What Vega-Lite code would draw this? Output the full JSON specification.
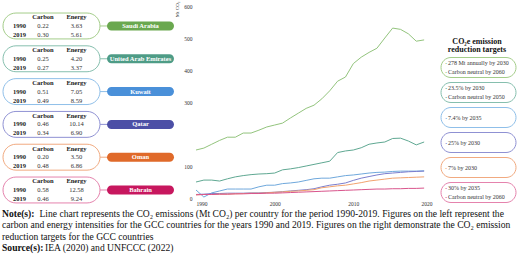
{
  "$schema": "https://vega.github.io/schema/vega-lite/v6.json",
  "background": "white",
  "padding": {"left": 0, "top": 1, "right": 0, "bottom": 0},
  "bounds": "flush",
  "align": "each",
  "columns": 3,
  "spacing": {"row": 0, "column": 4},
  "config": {
    "view": {"stroke": null},
    "font": "Liberation Serif",
    "axis": {"labelFont": "Liberation Serif", "titleFont": "Liberation Serif", "labelColor": "#333333", "titleColor": "#333333"}
  },
  "datasets": {
    "intensity": [
      {"country": "Saudi Arabia", "year": 1990, "carbon": 0.22, "energy": 3.63},
      {"country": "Saudi Arabia", "year": 2019, "carbon": 0.30, "energy": 5.61},
      {"country": "United Arab Emirates", "year": 1990, "carbon": 0.25, "energy": 4.20},
      {"country": "United Arab Emirates", "year": 2019, "carbon": 0.27, "energy": 3.37},
      {"country": "Kuwait", "year": 1990, "carbon": 0.51, "energy": 7.05},
      {"country": "Kuwait", "year": 2019, "carbon": 0.49, "energy": 8.59},
      {"country": "Qatar", "year": 1990, "carbon": 0.46, "energy": 10.14},
      {"country": "Qatar", "year": 2019, "carbon": 0.34, "energy": 6.90},
      {"country": "Oman", "year": 1990, "carbon": 0.20, "energy": 3.50},
      {"country": "Oman", "year": 2019, "carbon": 0.48, "energy": 6.86},
      {"country": "Bahrain", "year": 1990, "carbon": 0.58, "energy": 12.58},
      {"country": "Bahrain", "year": 2019, "carbon": 0.46, "energy": 9.24}
    ],
    "targets": [
      {"country": "Saudi Arabia", "targets": ["278 Mt annually by 2030", "Carbon neutral by 2060"]},
      {"country": "United Arab Emirates", "targets": ["23.5% by 2030", "Carbon neutral by 2050"]},
      {"country": "Kuwait", "targets": ["7.4% by 2035"]},
      {"country": "Qatar", "targets": ["25% by 2030"]},
      {"country": "Oman", "targets": ["7% by 2030"]},
      {"country": "Bahrain", "targets": ["30% by 2035", "Carbon neutral by 2060"]}
    ],
    "notes": [
      {"line": 1, "label": "Note(s):", "text": "Line chart represents the CO₂ emissions (Mt CO₂) per country for the period 1990-2019. Figures on the left represent the"},
      {"line": 2, "label": null, "text": "carbon and energy intensities for the GCC countries for the years 1990 and 2019. Figures on the right demonstrate the CO₂ emission"},
      {"line": 3, "label": null, "text": "reduction targets for the GCC countries"},
      {"line": 4, "label": "Source(s):", "text": "IEA (2020) and UNFCCC (2022)"}
    ],
    "emissions": [
      {"country": "Saudi Arabia", "year": 1990, "mt": 150}, {"country": "Saudi Arabia", "year": 1991, "mt": 156},
      {"country": "Saudi Arabia", "year": 1992, "mt": 168}, {"country": "Saudi Arabia", "year": 1993, "mt": 180},
      {"country": "Saudi Arabia", "year": 1994, "mt": 190}, {"country": "Saudi Arabia", "year": 1995, "mt": 190},
      {"country": "Saudi Arabia", "year": 1996, "mt": 203}, {"country": "Saudi Arabia", "year": 1997, "mt": 203},
      {"country": "Saudi Arabia", "year": 1998, "mt": 212}, {"country": "Saudi Arabia", "year": 1999, "mt": 222},
      {"country": "Saudi Arabia", "year": 2000, "mt": 228}, {"country": "Saudi Arabia", "year": 2001, "mt": 234},
      {"country": "Saudi Arabia", "year": 2002, "mt": 250}, {"country": "Saudi Arabia", "year": 2003, "mt": 265},
      {"country": "Saudi Arabia", "year": 2004, "mt": 280}, {"country": "Saudi Arabia", "year": 2005, "mt": 290},
      {"country": "Saudi Arabia", "year": 2006, "mt": 310}, {"country": "Saudi Arabia", "year": 2007, "mt": 335},
      {"country": "Saudi Arabia", "year": 2008, "mt": 365}, {"country": "Saudi Arabia", "year": 2009, "mt": 378},
      {"country": "Saudi Arabia", "year": 2010, "mt": 420}, {"country": "Saudi Arabia", "year": 2011, "mt": 440},
      {"country": "Saudi Arabia", "year": 2012, "mt": 455}, {"country": "Saudi Arabia", "year": 2013, "mt": 468},
      {"country": "Saudi Arabia", "year": 2014, "mt": 500}, {"country": "Saudi Arabia", "year": 2015, "mt": 531},
      {"country": "Saudi Arabia", "year": 2016, "mt": 527}, {"country": "Saudi Arabia", "year": 2017, "mt": 513},
      {"country": "Saudi Arabia", "year": 2018, "mt": 490}, {"country": "Saudi Arabia", "year": 2019, "mt": 494},
      {"country": "United Arab Emirates", "year": 1990, "mt": 50}, {"country": "United Arab Emirates", "year": 1991, "mt": 56},
      {"country": "United Arab Emirates", "year": 1992, "mt": 56}, {"country": "United Arab Emirates", "year": 1993, "mt": 53},
      {"country": "United Arab Emirates", "year": 1994, "mt": 60}, {"country": "United Arab Emirates", "year": 1995, "mt": 66},
      {"country": "United Arab Emirates", "year": 1996, "mt": 70}, {"country": "United Arab Emirates", "year": 1997, "mt": 73},
      {"country": "United Arab Emirates", "year": 1998, "mt": 75}, {"country": "United Arab Emirates", "year": 1999, "mt": 76},
      {"country": "United Arab Emirates", "year": 2000, "mt": 78}, {"country": "United Arab Emirates", "year": 2001, "mt": 88},
      {"country": "United Arab Emirates", "year": 2002, "mt": 91}, {"country": "United Arab Emirates", "year": 2003, "mt": 95},
      {"country": "United Arab Emirates", "year": 2004, "mt": 100}, {"country": "United Arab Emirates", "year": 2005, "mt": 105},
      {"country": "United Arab Emirates", "year": 2006, "mt": 110}, {"country": "United Arab Emirates", "year": 2007, "mt": 115},
      {"country": "United Arab Emirates", "year": 2008, "mt": 142}, {"country": "United Arab Emirates", "year": 2009, "mt": 147},
      {"country": "United Arab Emirates", "year": 2010, "mt": 150}, {"country": "United Arab Emirates", "year": 2011, "mt": 157},
      {"country": "United Arab Emirates", "year": 2012, "mt": 168}, {"country": "United Arab Emirates", "year": 2013, "mt": 172},
      {"country": "United Arab Emirates", "year": 2014, "mt": 175}, {"country": "United Arab Emirates", "year": 2015, "mt": 186},
      {"country": "United Arab Emirates", "year": 2016, "mt": 187}, {"country": "United Arab Emirates", "year": 2017, "mt": 178},
      {"country": "United Arab Emirates", "year": 2018, "mt": 166}, {"country": "United Arab Emirates", "year": 2019, "mt": 175},
      {"country": "Kuwait", "year": 1990, "mt": 25}, {"country": "Kuwait", "year": 1991, "mt": 3},
      {"country": "Kuwait", "year": 1992, "mt": 16}, {"country": "Kuwait", "year": 1993, "mt": 22},
      {"country": "Kuwait", "year": 1994, "mt": 28}, {"country": "Kuwait", "year": 1995, "mt": 28},
      {"country": "Kuwait", "year": 1996, "mt": 28}, {"country": "Kuwait", "year": 1997, "mt": 28},
      {"country": "Kuwait", "year": 1998, "mt": 35}, {"country": "Kuwait", "year": 1999, "mt": 40},
      {"country": "Kuwait", "year": 2000, "mt": 40}, {"country": "Kuwait", "year": 2001, "mt": 45},
      {"country": "Kuwait", "year": 2002, "mt": 47}, {"country": "Kuwait", "year": 2003, "mt": 50},
      {"country": "Kuwait", "year": 2004, "mt": 55}, {"country": "Kuwait", "year": 2005, "mt": 60},
      {"country": "Kuwait", "year": 2006, "mt": 62}, {"country": "Kuwait", "year": 2007, "mt": 62},
      {"country": "Kuwait", "year": 2008, "mt": 66}, {"country": "Kuwait", "year": 2009, "mt": 70},
      {"country": "Kuwait", "year": 2010, "mt": 72}, {"country": "Kuwait", "year": 2011, "mt": 75},
      {"country": "Kuwait", "year": 2012, "mt": 78}, {"country": "Kuwait", "year": 2013, "mt": 80},
      {"country": "Kuwait", "year": 2014, "mt": 81}, {"country": "Kuwait", "year": 2015, "mt": 83},
      {"country": "Kuwait", "year": 2016, "mt": 84}, {"country": "Kuwait", "year": 2017, "mt": 84},
      {"country": "Kuwait", "year": 2018, "mt": 84}, {"country": "Kuwait", "year": 2019, "mt": 85},
      {"country": "Qatar", "year": 1990, "mt": 11}, {"country": "Qatar", "year": 1991, "mt": 12},
      {"country": "Qatar", "year": 1992, "mt": 14}, {"country": "Qatar", "year": 1993, "mt": 14},
      {"country": "Qatar", "year": 1994, "mt": 15}, {"country": "Qatar", "year": 1995, "mt": 15},
      {"country": "Qatar", "year": 1996, "mt": 15}, {"country": "Qatar", "year": 1997, "mt": 16},
      {"country": "Qatar", "year": 1998, "mt": 16}, {"country": "Qatar", "year": 1999, "mt": 17},
      {"country": "Qatar", "year": 2000, "mt": 18}, {"country": "Qatar", "year": 2001, "mt": 20},
      {"country": "Qatar", "year": 2002, "mt": 22}, {"country": "Qatar", "year": 2003, "mt": 24},
      {"country": "Qatar", "year": 2004, "mt": 26}, {"country": "Qatar", "year": 2005, "mt": 29},
      {"country": "Qatar", "year": 2006, "mt": 35}, {"country": "Qatar", "year": 2007, "mt": 40},
      {"country": "Qatar", "year": 2008, "mt": 43}, {"country": "Qatar", "year": 2009, "mt": 47},
      {"country": "Qatar", "year": 2010, "mt": 55}, {"country": "Qatar", "year": 2011, "mt": 62},
      {"country": "Qatar", "year": 2012, "mt": 67}, {"country": "Qatar", "year": 2013, "mt": 72},
      {"country": "Qatar", "year": 2014, "mt": 76}, {"country": "Qatar", "year": 2015, "mt": 78},
      {"country": "Qatar", "year": 2016, "mt": 80}, {"country": "Qatar", "year": 2017, "mt": 82},
      {"country": "Qatar", "year": 2018, "mt": 83}, {"country": "Qatar", "year": 2019, "mt": 84},
      {"country": "Oman", "year": 1990, "mt": 10}, {"country": "Oman", "year": 1991, "mt": 11},
      {"country": "Oman", "year": 1992, "mt": 11}, {"country": "Oman", "year": 1993, "mt": 12},
      {"country": "Oman", "year": 1994, "mt": 12}, {"country": "Oman", "year": 1995, "mt": 13},
      {"country": "Oman", "year": 1996, "mt": 14}, {"country": "Oman", "year": 1997, "mt": 15},
      {"country": "Oman", "year": 1998, "mt": 15}, {"country": "Oman", "year": 1999, "mt": 16},
      {"country": "Oman", "year": 2000, "mt": 18}, {"country": "Oman", "year": 2001, "mt": 19},
      {"country": "Oman", "year": 2002, "mt": 21}, {"country": "Oman", "year": 2003, "mt": 22},
      {"country": "Oman", "year": 2004, "mt": 24}, {"country": "Oman", "year": 2005, "mt": 26},
      {"country": "Oman", "year": 2006, "mt": 32}, {"country": "Oman", "year": 2007, "mt": 35},
      {"country": "Oman", "year": 2008, "mt": 38}, {"country": "Oman", "year": 2009, "mt": 40},
      {"country": "Oman", "year": 2010, "mt": 44}, {"country": "Oman", "year": 2011, "mt": 48},
      {"country": "Oman", "year": 2012, "mt": 53}, {"country": "Oman", "year": 2013, "mt": 56},
      {"country": "Oman", "year": 2014, "mt": 59}, {"country": "Oman", "year": 2015, "mt": 62},
      {"country": "Oman", "year": 2016, "mt": 63}, {"country": "Oman", "year": 2017, "mt": 64},
      {"country": "Oman", "year": 2018, "mt": 65}, {"country": "Oman", "year": 2019, "mt": 66},
      {"country": "Bahrain", "year": 1990, "mt": 10}, {"country": "Bahrain", "year": 1991, "mt": 11},
      {"country": "Bahrain", "year": 1992, "mt": 11}, {"country": "Bahrain", "year": 1993, "mt": 12},
      {"country": "Bahrain", "year": 1994, "mt": 12}, {"country": "Bahrain", "year": 1995, "mt": 13},
      {"country": "Bahrain", "year": 1996, "mt": 13}, {"country": "Bahrain", "year": 1997, "mt": 14},
      {"country": "Bahrain", "year": 1998, "mt": 14}, {"country": "Bahrain", "year": 1999, "mt": 15},
      {"country": "Bahrain", "year": 2000, "mt": 15}, {"country": "Bahrain", "year": 2001, "mt": 16},
      {"country": "Bahrain", "year": 2002, "mt": 17}, {"country": "Bahrain", "year": 2003, "mt": 18},
      {"country": "Bahrain", "year": 2004, "mt": 19}, {"country": "Bahrain", "year": 2005, "mt": 20},
      {"country": "Bahrain", "year": 2006, "mt": 21}, {"country": "Bahrain", "year": 2007, "mt": 22},
      {"country": "Bahrain", "year": 2008, "mt": 23}, {"country": "Bahrain", "year": 2009, "mt": 24},
      {"country": "Bahrain", "year": 2010, "mt": 25}, {"country": "Bahrain", "year": 2011, "mt": 26},
      {"country": "Bahrain", "year": 2012, "mt": 27}, {"country": "Bahrain", "year": 2013, "mt": 28},
      {"country": "Bahrain", "year": 2014, "mt": 28}, {"country": "Bahrain", "year": 2015, "mt": 29},
      {"country": "Bahrain", "year": 2016, "mt": 29}, {"country": "Bahrain", "year": 2017, "mt": 30},
      {"country": "Bahrain", "year": 2018, "mt": 30}, {"country": "Bahrain", "year": 2019, "mt": 31}
    ]
  },
  "concat": [
    {
      "width": 192,
      "height": 202,
      "data": {"name": "intensity"},
      "encoding": {
        "y": {
          "field": "country",
          "type": "nominal",
          "axis": null,
          "scale": {
            "domain": ["Saudi Arabia", "United Arab Emirates", "Kuwait", "Qatar", "Oman", "Bahrain"],
            "paddingInner": 0,
            "paddingOuter": 0.079,
            "align": 0.69
          }
        }
      },
      "layer": [
        {
          "transform": [{"filter": "datum.year == 1990"}],
          "mark": {"type": "bar", "height": {"band": 0.79}, "cornerRadius": 13, "fill": "white", "strokeWidth": 1},
          "encoding": {
            "x": {"datum": 3, "type": "quantitative", "axis": null, "scale": {"domain": [0, 192], "nice": false, "zero": false}},
            "x2": {"datum": 100},
            "stroke": {
              "field": "country",
              "type": "nominal",
              "legend": null,
              "scale": {
                "domain": ["Saudi Arabia", "United Arab Emirates", "Kuwait", "Qatar", "Oman", "Bahrain"],
                "range": ["#a4cd8a", "#86bfae", "#8fbfe9", "#8f91d3", "#f1aa80", "#e583ad"]
              }
            }
          }
        },
        {
          "transform": [{"filter": "datum.year == 1990"}],
          "mark": {"type": "rule", "strokeWidth": 1},
          "encoding": {
            "x": {"datum": 100, "type": "quantitative"},
            "x2": {"datum": 108},
            "stroke": {"field": "country", "type": "nominal", "legend": null}
          }
        },
        {
          "transform": [{"filter": "datum.year == 1990"}],
          "mark": {"type": "bar", "height": {"band": 0.275}, "cornerRadius": 4.5},
          "encoding": {
            "x": {"datum": 107, "type": "quantitative"},
            "x2": {"datum": 174},
            "fill": {
              "field": "country",
              "type": "nominal",
              "legend": null,
              "scale": {
                "domain": ["Saudi Arabia", "United Arab Emirates", "Kuwait", "Qatar", "Oman", "Bahrain"],
                "range": ["#6aa84f", "#4e9c86", "#4a90d9", "#4c4fa6", "#e06a2a", "#c7175e"]
              }
            }
          }
        },
        {
          "transform": [{"filter": "datum.year == 1990"}],
          "mark": {"type": "text", "fontSize": 6.5, "fontWeight": "bold", "color": "white"},
          "encoding": {
            "x": {"datum": 140.5, "type": "quantitative"},
            "text": {"field": "country", "type": "nominal"}
          }
        },
        {
          "transform": [{"filter": "datum.year == 1990"}],
          "mark": {"type": "text", "fontSize": 6.5, "fontWeight": "bold", "color": "#222222", "dy": -8.5},
          "encoding": {
            "x": {"datum": 43, "type": "quantitative"},
            "text": {"value": "Carbon"}
          }
        },
        {
          "transform": [{"filter": "datum.year == 1990"}],
          "mark": {"type": "text", "fontSize": 6.5, "fontWeight": "bold", "color": "#222222", "dy": -8.5},
          "encoding": {
            "x": {"datum": 76.5, "type": "quantitative"},
            "text": {"value": "Energy"}
          }
        },
        {
          "transform": [{"filter": "datum.year == 1990"}],
          "mark": {"type": "text", "fontSize": 6.5, "fontWeight": "bold", "color": "#222222"},
          "encoding": {
            "x": {"datum": 19.5, "type": "quantitative"},
            "text": {"field": "year", "type": "nominal"}
          }
        },
        {
          "transform": [{"filter": "datum.year == 2019"}],
          "mark": {"type": "text", "fontSize": 6.5, "fontWeight": "bold", "color": "#222222", "dy": 9},
          "encoding": {
            "x": {"datum": 19.5, "type": "quantitative"},
            "text": {"field": "year", "type": "nominal"}
          }
        },
        {
          "transform": [{"filter": "datum.year == 1990"}],
          "mark": {"type": "text", "fontSize": 6.5, "color": "#333333"},
          "encoding": {
            "x": {"datum": 43, "type": "quantitative"},
            "text": {"field": "carbon", "type": "quantitative", "format": ".2f"}
          }
        },
        {
          "transform": [{"filter": "datum.year == 2019"}],
          "mark": {"type": "text", "fontSize": 6.5, "color": "#333333", "dy": 9},
          "encoding": {
            "x": {"datum": 43, "type": "quantitative"},
            "text": {"field": "carbon", "type": "quantitative", "format": ".2f"}
          }
        },
        {
          "transform": [{"filter": "datum.year == 1990"}],
          "mark": {"type": "text", "fontSize": 6.5, "color": "#333333"},
          "encoding": {
            "x": {"datum": 76.5, "type": "quantitative"},
            "text": {"field": "energy", "type": "quantitative", "format": ".2f"}
          }
        },
        {
          "transform": [{"filter": "datum.year == 2019"}],
          "mark": {"type": "text", "fontSize": 6.5, "color": "#333333", "dy": 9},
          "encoding": {
            "x": {"datum": 76.5, "type": "quantitative"},
            "text": {"field": "energy", "type": "quantitative", "format": ".2f"}
          }
        }
      ]
    },
    {
      "width": 236,
      "height": 192,
      "data": {"name": "emissions"},
      "mark": {"type": "line", "strokeWidth": 1},
      "encoding": {
        "x": {
          "field": "year",
          "type": "quantitative",
          "scale": {"domain": [1990, 2020], "nice": false, "zero": false},
          "axis": {"values": [1990, 2000, 2010, 2020], "format": "d", "title": null, "grid": false, "domain": false, "ticks": false, "labelPadding": 3, "labelFontSize": 5.5}
        },
        "y": {
          "field": "mt",
          "type": "quantitative",
          "scale": {"domain": [0, 600], "nice": false},
          "axis": {
            "values": [0, 100, 300, 400, 500, 600],
            "grid": false, "domain": false, "ticks": false,
            "labelPadding": 4, "labelFontSize": 5.5,
            "title": "Mt CO₂", "titleFontSize": 5, "titleFontWeight": "normal",
            "titleAngle": -90, "titleAlign": "right", "titleBaseline": "bottom",
            "titleX": -17, "titleY": -5
          }
        },
        "color": {
          "field": "country",
          "type": "nominal",
          "legend": null,
          "scale": {
            "domain": ["Saudi Arabia", "United Arab Emirates", "Kuwait", "Qatar", "Oman", "Bahrain"],
            "range": ["#93c47d", "#5fa892", "#6fa8dc", "#7b7ece", "#f2a36f", "#d9558c"]
          }
        }
      }
    },
    {
      "width": 82,
      "height": 202,
      "data": {"name": "targets"},
      "encoding": {
        "y": {
          "field": "country",
          "type": "nominal",
          "axis": null,
          "scale": {
            "domain": ["heading", "Saudi Arabia", "United Arab Emirates", "Kuwait", "Qatar", "Oman", "Bahrain"],
            "paddingInner": 0,
            "paddingOuter": 0.54,
            "align": 0.889
          }
        }
      },
      "layer": [
        {
          "mark": {"type": "bar", "height": {"band": 0.8}, "cornerRadius": 10, "fill": "white", "strokeWidth": 1},
          "encoding": {
            "x": {"datum": 5, "type": "quantitative", "axis": null, "scale": {"domain": [0, 82], "nice": false, "zero": false}},
            "x2": {"datum": 80},
            "stroke": {
              "field": "country",
              "type": "nominal",
              "legend": null,
              "scale": {
                "domain": ["Saudi Arabia", "United Arab Emirates", "Kuwait", "Qatar", "Oman", "Bahrain"],
                "range": ["#a4cd8a", "#86bfae", "#8fbfe9", "#8f91d3", "#f1aa80", "#e583ad"]
              }
            }
          }
        },
        {
          "transform": [{"filter": "length(datum.targets) > 1"}],
          "mark": {"type": "text", "fontSize": 5, "lineHeight": 9, "dy": -4.5},
          "encoding": {
            "x": {"datum": 10, "type": "quantitative"},
            "text": {"value": ["•", "•"]},
            "color": {
              "field": "country",
              "type": "nominal",
              "legend": null,
              "scale": {
                "domain": ["Saudi Arabia", "United Arab Emirates", "Kuwait", "Qatar", "Oman", "Bahrain"],
                "range": ["#6aa84f", "#4e9c86", "#4a90d9", "#4c4fa6", "#e06a2a", "#c7175e"]
              }
            }
          }
        },
        {
          "transform": [{"filter": "length(datum.targets) == 1"}],
          "mark": {"type": "text", "fontSize": 5},
          "encoding": {
            "x": {"datum": 10, "type": "quantitative"},
            "text": {"value": "•"},
            "color": {"field": "country", "type": "nominal", "legend": null}
          }
        },
        {
          "transform": [{"filter": "length(datum.targets) > 1"}],
          "mark": {"type": "text", "fontSize": 6, "lineHeight": 9, "dy": -4.5, "align": "left", "color": "#333333"},
          "encoding": {
            "x": {"datum": 12, "type": "quantitative"},
            "text": {"field": "targets", "type": "nominal"}
          }
        },
        {
          "transform": [{"filter": "length(datum.targets) == 1"}],
          "mark": {"type": "text", "fontSize": 6, "align": "left", "color": "#333333"},
          "encoding": {
            "x": {"datum": 12, "type": "quantitative"},
            "text": {"field": "targets", "type": "nominal"}
          }
        },
        {
          "data": {"values": [{"country": "heading", "heading": ["CO₂e emission", "reduction targets"]}]},
          "mark": {"type": "text", "fontSize": 8, "fontWeight": "bold", "lineHeight": 7.5, "dy": -0.5, "color": "#111111"},
          "encoding": {
            "x": {"datum": 41, "type": "quantitative"},
            "text": {"field": "heading", "type": "nominal"}
          }
        }
      ]
    },
    {
      "width": 192,
      "height": 46,
      "data": {"name": "notes"},
      "encoding": {
        "y": {"field": "line", "type": "ordinal", "axis": null, "scale": {"domain": [1, 2, 3, 4], "paddingInner": 0, "paddingOuter": 0}}
      },
      "layer": [
        {
          "transform": [{"filter": "datum.label != null"}],
          "mark": {"type": "text", "fontSize": 9.6, "fontWeight": "bold", "align": "left", "color": "#111111"},
          "encoding": {
            "x": {"datum": 2, "type": "quantitative", "axis": null, "scale": {"domain": [0, 192], "nice": false, "zero": false}},
            "text": {"field": "label", "type": "nominal"}
          }
        },
        {
          "transform": [{"filter": "datum.line == 1"}],
          "mark": {"type": "text", "fontSize": 9.6, "align": "left", "color": "#111111"},
          "encoding": {
            "x": {"datum": 39.5, "type": "quantitative"},
            "text": {"field": "text", "type": "nominal"}
          }
        },
        {
          "transform": [{"filter": "datum.line == 2 || datum.line == 3"}],
          "mark": {"type": "text", "fontSize": 9.6, "align": "left", "color": "#111111"},
          "encoding": {
            "x": {"datum": 2, "type": "quantitative"},
            "text": {"field": "text", "type": "nominal"}
          }
        },
        {
          "transform": [{"filter": "datum.line == 4"}],
          "mark": {"type": "text", "fontSize": 9.6, "align": "left", "color": "#111111"},
          "encoding": {
            "x": {"datum": 45, "type": "quantitative"},
            "text": {"field": "text", "type": "nominal"}
          }
        }
      ]
    }
  ]
}
